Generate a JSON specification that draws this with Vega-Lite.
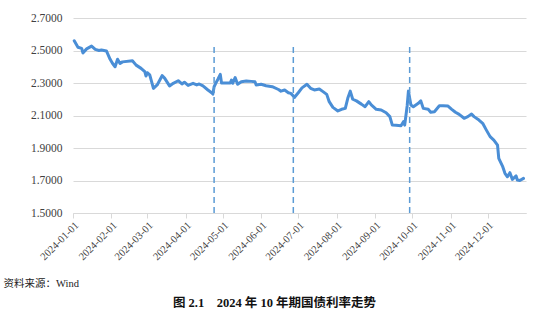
{
  "$schema": "https://vega.github.io/schema/vega-lite/v6.json",
  "width": 453,
  "height": 195,
  "autosize": "none",
  "padding": {"left": 73, "top": 18, "right": 24, "bottom": 99},
  "background": "white",
  "config": {"view": {"stroke": null}},
  "title": {
    "text": "图 2.1　2024 年 10 年期国债利率走势",
    "orient": "bottom",
    "anchor": "middle",
    "frame": "group",
    "dx": -25,
    "offset": 8,
    "font": "Liberation Serif, Noto Sans CJK SC",
    "fontSize": 12.5,
    "fontWeight": "bold",
    "color": "#111111"
  },
  "datasets": {
    "yields": [
      {"date": "2024-01-02", "yield": 2.56},
      {"date": "2024-01-05", "yield": 2.52},
      {"date": "2024-01-08", "yield": 2.513},
      {"date": "2024-01-09", "yield": 2.485},
      {"date": "2024-01-12", "yield": 2.51},
      {"date": "2024-01-16", "yield": 2.527},
      {"date": "2024-01-19", "yield": 2.507},
      {"date": "2024-01-22", "yield": 2.5},
      {"date": "2024-01-24", "yield": 2.503},
      {"date": "2024-01-28", "yield": 2.497},
      {"date": "2024-01-31", "yield": 2.446},
      {"date": "2024-02-02", "yield": 2.42},
      {"date": "2024-02-04", "yield": 2.4},
      {"date": "2024-02-06", "yield": 2.446},
      {"date": "2024-02-08", "yield": 2.42},
      {"date": "2024-02-10", "yield": 2.43},
      {"date": "2024-02-18", "yield": 2.437},
      {"date": "2024-02-21", "yield": 2.41},
      {"date": "2024-02-25", "yield": 2.39},
      {"date": "2024-02-28", "yield": 2.37},
      {"date": "2024-02-29", "yield": 2.343},
      {"date": "2024-03-01", "yield": 2.363},
      {"date": "2024-03-03", "yield": 2.35},
      {"date": "2024-03-06", "yield": 2.267},
      {"date": "2024-03-09", "yield": 2.288},
      {"date": "2024-03-13", "yield": 2.345},
      {"date": "2024-03-15", "yield": 2.33},
      {"date": "2024-03-19", "yield": 2.282},
      {"date": "2024-03-22", "yield": 2.298},
      {"date": "2024-03-26", "yield": 2.314},
      {"date": "2024-03-29", "yield": 2.294},
      {"date": "2024-03-31", "yield": 2.305},
      {"date": "2024-04-03", "yield": 2.285},
      {"date": "2024-04-07", "yield": 2.298},
      {"date": "2024-04-10", "yield": 2.288},
      {"date": "2024-04-12", "yield": 2.294},
      {"date": "2024-04-15", "yield": 2.282},
      {"date": "2024-04-19", "yield": 2.257},
      {"date": "2024-04-22", "yield": 2.24},
      {"date": "2024-04-23", "yield": 2.232},
      {"date": "2024-04-24", "yield": 2.277},
      {"date": "2024-04-26", "yield": 2.308},
      {"date": "2024-04-27", "yield": 2.322},
      {"date": "2024-04-29", "yield": 2.353},
      {"date": "2024-04-30", "yield": 2.3},
      {"date": "2024-05-04", "yield": 2.3},
      {"date": "2024-05-07", "yield": 2.3},
      {"date": "2024-05-08", "yield": 2.318},
      {"date": "2024-05-09", "yield": 2.298},
      {"date": "2024-05-11", "yield": 2.333},
      {"date": "2024-05-13", "yield": 2.292},
      {"date": "2024-05-16", "yield": 2.308},
      {"date": "2024-05-20", "yield": 2.312},
      {"date": "2024-05-24", "yield": 2.31},
      {"date": "2024-05-27", "yield": 2.308},
      {"date": "2024-05-28", "yield": 2.288},
      {"date": "2024-06-01", "yield": 2.292},
      {"date": "2024-06-05", "yield": 2.283},
      {"date": "2024-06-10", "yield": 2.277},
      {"date": "2024-06-15", "yield": 2.26},
      {"date": "2024-06-17", "yield": 2.25},
      {"date": "2024-06-20", "yield": 2.257},
      {"date": "2024-06-23", "yield": 2.24},
      {"date": "2024-06-25", "yield": 2.236},
      {"date": "2024-06-28", "yield": 2.212},
      {"date": "2024-07-01", "yield": 2.24},
      {"date": "2024-07-04", "yield": 2.27},
      {"date": "2024-07-08", "yield": 2.292},
      {"date": "2024-07-11", "yield": 2.267},
      {"date": "2024-07-14", "yield": 2.257},
      {"date": "2024-07-18", "yield": 2.263},
      {"date": "2024-07-21", "yield": 2.247},
      {"date": "2024-07-24", "yield": 2.23},
      {"date": "2024-07-26", "yield": 2.185},
      {"date": "2024-07-29", "yield": 2.15},
      {"date": "2024-08-02", "yield": 2.128},
      {"date": "2024-08-05", "yield": 2.138},
      {"date": "2024-08-08", "yield": 2.144},
      {"date": "2024-08-10", "yield": 2.206},
      {"date": "2024-08-12", "yield": 2.25},
      {"date": "2024-08-14", "yield": 2.2},
      {"date": "2024-08-17", "yield": 2.19},
      {"date": "2024-08-21", "yield": 2.17},
      {"date": "2024-08-24", "yield": 2.154},
      {"date": "2024-08-27", "yield": 2.185},
      {"date": "2024-08-29", "yield": 2.165},
      {"date": "2024-09-02", "yield": 2.138},
      {"date": "2024-09-06", "yield": 2.134},
      {"date": "2024-09-10", "yield": 2.117},
      {"date": "2024-09-13", "yield": 2.093},
      {"date": "2024-09-15", "yield": 2.041},
      {"date": "2024-09-18", "yield": 2.04},
      {"date": "2024-09-22", "yield": 2.037},
      {"date": "2024-09-24", "yield": 2.062},
      {"date": "2024-09-25", "yield": 2.041},
      {"date": "2024-09-27", "yield": 2.16},
      {"date": "2024-09-28", "yield": 2.25},
      {"date": "2024-09-30", "yield": 2.165},
      {"date": "2024-10-02", "yield": 2.154},
      {"date": "2024-10-06", "yield": 2.175},
      {"date": "2024-10-08", "yield": 2.19},
      {"date": "2024-10-10", "yield": 2.144},
      {"date": "2024-10-14", "yield": 2.138},
      {"date": "2024-10-16", "yield": 2.12},
      {"date": "2024-10-19", "yield": 2.123},
      {"date": "2024-10-23", "yield": 2.16},
      {"date": "2024-10-26", "yield": 2.16},
      {"date": "2024-10-30", "yield": 2.158},
      {"date": "2024-11-02", "yield": 2.138},
      {"date": "2024-11-05", "yield": 2.12},
      {"date": "2024-11-08", "yield": 2.107},
      {"date": "2024-11-12", "yield": 2.083},
      {"date": "2024-11-15", "yield": 2.093},
      {"date": "2024-11-18", "yield": 2.109},
      {"date": "2024-11-20", "yield": 2.093},
      {"date": "2024-11-24", "yield": 2.072},
      {"date": "2024-11-27", "yield": 2.052},
      {"date": "2024-11-30", "yield": 2.01},
      {"date": "2024-12-03", "yield": 1.97},
      {"date": "2024-12-06", "yield": 1.949},
      {"date": "2024-12-09", "yield": 1.918},
      {"date": "2024-12-10", "yield": 1.836},
      {"date": "2024-12-13", "yield": 1.789},
      {"date": "2024-12-15", "yield": 1.744},
      {"date": "2024-12-17", "yield": 1.723},
      {"date": "2024-12-19", "yield": 1.748},
      {"date": "2024-12-21", "yield": 1.707},
      {"date": "2024-12-24", "yield": 1.728},
      {"date": "2024-12-25", "yield": 1.703},
      {"date": "2024-12-27", "yield": 1.7},
      {"date": "2024-12-30", "yield": 1.713}
    ],
    "events": [
      {"date": "2024-04-24", "bottom": 1.5, "top": 2.53},
      {"date": "2024-06-27", "bottom": 1.5, "top": 2.53},
      {"date": "2024-09-29", "bottom": 1.5, "top": 2.53}
    ]
  },
  "encoding": {
    "x": {
      "field": "date",
      "type": "temporal",
      "scale": {"type": "utc", "domain": [{"year": 2024, "month": 1, "date": 1, "utc": true}, {"year": 2025, "month": 1, "date": 1, "utc": true}]},
      "axis": {
        "values": [
          {"year": 2024, "month": 1, "date": 1, "utc": true},
          {"year": 2024, "month": 2, "date": 1, "utc": true},
          {"year": 2024, "month": 3, "date": 1, "utc": true},
          {"year": 2024, "month": 4, "date": 1, "utc": true},
          {"year": 2024, "month": 5, "date": 1, "utc": true},
          {"year": 2024, "month": 6, "date": 1, "utc": true},
          {"year": 2024, "month": 7, "date": 1, "utc": true},
          {"year": 2024, "month": 8, "date": 1, "utc": true},
          {"year": 2024, "month": 9, "date": 1, "utc": true},
          {"year": 2024, "month": 10, "date": 1, "utc": true},
          {"year": 2024, "month": 11, "date": 1, "utc": true},
          {"year": 2024, "month": 12, "date": 1, "utc": true}
        ],
        "labelExpr": "utcFormat(datum.value, '%Y-%m-%d')",
        "labelAngle": -45,
        "labelFont": "Liberation Serif",
        "labelFontSize": 10.5,
        "labelColor": "#404040",
        "labelPadding": 2,
        "labelOverlap": false,
        "labelBound": false,
        "grid": false,
        "domainColor": "#d9d9d9",
        "tickColor": "#d9d9d9",
        "tickSize": 5,
        "title": "资料来源：Wind",
        "titleFont": "Liberation Serif, Noto Sans CJK SC",
        "titleFontSize": 10.5,
        "titleFontWeight": "normal",
        "titleColor": "#222222",
        "titleAlign": "left",
        "titleAnchor": "start",
        "titleBaseline": "middle",
        "titleX": -70,
        "titleY": 70
      }
    }
  },
  "layer": [
    {
      "data": {"name": "yields"},
      "mark": {"type": "line", "color": "#4a8ed6", "strokeWidth": 3, "strokeJoin": "round", "strokeCap": "round"},
      "encoding": {
        "y": {
          "field": "yield",
          "type": "quantitative",
          "scale": {"domain": [1.5, 2.7], "nice": false, "zero": false},
          "axis": {
            "values": [1.5, 1.7, 1.9, 2.1, 2.3, 2.5, 2.7],
            "labelExpr": "format(datum.value, '.4f')",
            "labelOverlap": false,
            "labelFont": "Liberation Serif",
            "labelFontSize": 11.5,
            "labelColor": "#404040",
            "labelPadding": 11,
            "ticks": false,
            "domain": false,
            "grid": true,
            "gridColor": "#d9d9d9",
            "gridWidth": 1,
            "title": null
          }
        }
      }
    },
    {
      "data": {"name": "events"},
      "mark": {"type": "rule", "color": "#5b9bd5", "strokeWidth": 1.5, "strokeDash": [6, 4]},
      "encoding": {
        "y": {
          "field": "bottom",
          "type": "quantitative",
          "scale": {"domain": [1.5, 2.7], "nice": false, "zero": false},
          "axis": {
            "values": [1.5, 1.7, 1.9, 2.1, 2.3, 2.5, 2.7],
            "labelExpr": "format(datum.value, '.4f')",
            "labelOverlap": false,
            "labelFont": "Liberation Serif",
            "labelFontSize": 11.5,
            "labelColor": "#404040",
            "labelPadding": 11,
            "ticks": false,
            "domain": false,
            "grid": true,
            "gridColor": "#d9d9d9",
            "gridWidth": 1,
            "title": null
          }
        },
        "y2": {"field": "top"}
      }
    }
  ]
}
